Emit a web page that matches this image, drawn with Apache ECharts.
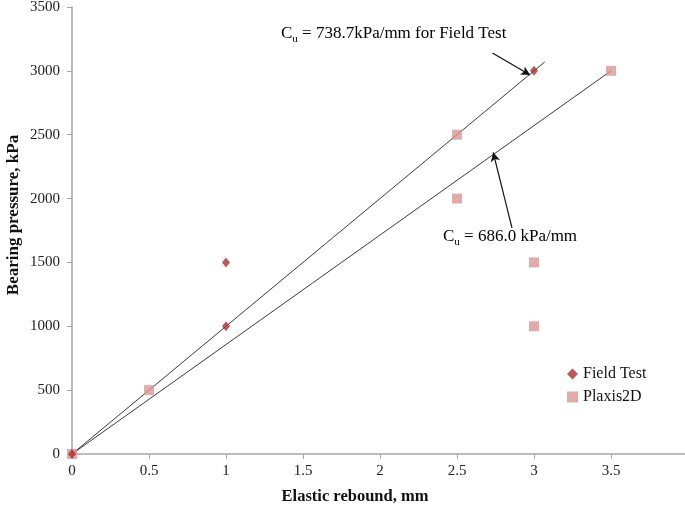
<!DOCTYPE html>
<html><head><meta charset="utf-8">
<script src="https://cdn.jsdelivr.net/npm/echarts@6/dist/echarts.min.js"></script>
<style>html,body{margin:0;padding:0;background:#fff}#c{width:685px;height:507px}</style>
</head><body><div id="c"></div>
<script>
const xTicks = [0, 0.5, 1, 1.5, 2, 2.5, 3, 3.5];
const yTicks = [0, 500, 1000, 1500, 2000, 2500, 3000, 3500];
const fieldTest = [[0, 0], [1, 1000], [1, 1500], [3, 3000]];
const plaxis2D = [[0, 0], [0.5, 500], [2.5, 2500], [2.5, 2000], [3, 1500], [3, 1000], [3.5, 3000]];
const fieldFit = [[0, 0], [3.07, 3070]];
const plaxisFit = [[0, 0], [3.5, 3000]];
const arrow1 = [[2.73, 3140], [2.975, 2968]];
const arrow2 = [[2.857, 1770], [2.735, 2362]];
const label1 = ['C', 'u', ' = 738.7kPa/mm for Field Test'];
const label2 = ['C', 'u', ' = 686.0 kPa/mm'];

const FONT = '"Liberation Serif", "Times New Roman", serif';
const chart = echarts.init(document.getElementById('c'), null, {renderer: 'canvas'});
const lineStyle = {color: '#3a3a3a', width: 1};
const richStyle = {
  b: {fontFamily: FONT, fontSize: 17, color: '#111', lineHeight: 20, verticalAlign: 'bottom'},
  s: {fontFamily: FONT, fontSize: 11, color: '#111', lineHeight: 20, verticalAlign: 'bottom', padding: [0, 0, -3, 0]}
};
function rt(a) { return '{b|' + a[0] + '}{s|' + a[1] + '}{b|' + a[2] + '}'; }
chart.setOption({
  animation: false,
  grid: {left: 72, top: 7, width: 616, bottom: 53, containLabel: false, outerBoundsMode: 'none'},
  xAxis: {
    type: 'value', min: 0, max: 4, interval: 0.5,
    axisLine: {lineStyle: {color: '#a6a6a6', width: 1.5}},
    axisTick: {show: true, length: 5, lineStyle: {color: '#a6a6a6'}},
    splitLine: {show: false},
    axisLabel: {fontFamily: FONT, fontSize: 15, color: '#222', margin: 10,
      formatter: v => xTicks.indexOf(v) >= 0 ? String(v) : ''}
  },
  yAxis: {
    type: 'value', min: 0, max: 3500, interval: 500,
    axisLine: {show: true, lineStyle: {color: '#a6a6a6', width: 1.5}},
    axisTick: {show: true, length: 5, lineStyle: {color: '#a6a6a6'}},
    splitLine: {show: false},
    axisLabel: {fontFamily: FONT, fontSize: 15, color: '#222', margin: 12,
      formatter: v => yTicks.indexOf(v) >= 0 ? String(v) : ''}
  },
  legend: {
    orient: 'vertical', left: 562, top: 361, itemGap: 7, itemWidth: 11, itemHeight: 11,
    textStyle: {fontFamily: FONT, fontSize: 16, color: '#111'},
    data: [{name: 'Field Test', icon: 'diamond'}, {name: 'Plaxis2D', icon: 'rect'}]
  },
  series: [
    {type: 'line', data: fieldFit, symbol: 'none', lineStyle: lineStyle, silent: true, z: 1},
    {type: 'line', data: plaxisFit, symbol: 'none', lineStyle: lineStyle, silent: true, z: 1,
      markLine: {silent: true, symbolSize: [7, 9], lineStyle: {color: '#111', width: 1.2, type: 'solid'}, label: {show: false},
        data: [
          [{coord: arrow1[0], symbol: 'none'}, {coord: arrow1[1], symbol: 'arrow'}],
          [{coord: arrow2[0], symbol: 'none'}, {coord: arrow2[1], symbol: 'arrow'}]
        ]}},
    {name: 'Plaxis2D', type: 'scatter', data: plaxis2D, symbol: 'rect', symbolSize: 10,
      itemStyle: {color: '#d99694'}, z: 3},
    {name: 'Field Test', type: 'scatter', data: fieldTest, symbol: 'diamond', symbolSize: [8, 10],
      itemStyle: {color: '#a8312f'}, z: 4}
  ],
  graphic: [
    {type: 'text', left: 281, top: 25, style: {text: rt(label1), rich: richStyle}},
    {type: 'text', left: 443, top: 228, style: {text: rt(label2), rich: richStyle}},
    {type: 'text', x: 355, y: 497, style: {text: 'Elastic rebound, mm', fontFamily: FONT, fontSize: 16.5, fontWeight: 'bold', fill: '#111', align: 'center', verticalAlign: 'middle'}},
    {type: 'text', x: 14, y: 215, rotation: Math.PI / 2, style: {text: 'Bearing pressure, kPa', fontFamily: FONT, fontSize: 17, fontWeight: 'bold', fill: '#111', align: 'center', verticalAlign: 'middle'}}
  ]
});
</script></body></html>
